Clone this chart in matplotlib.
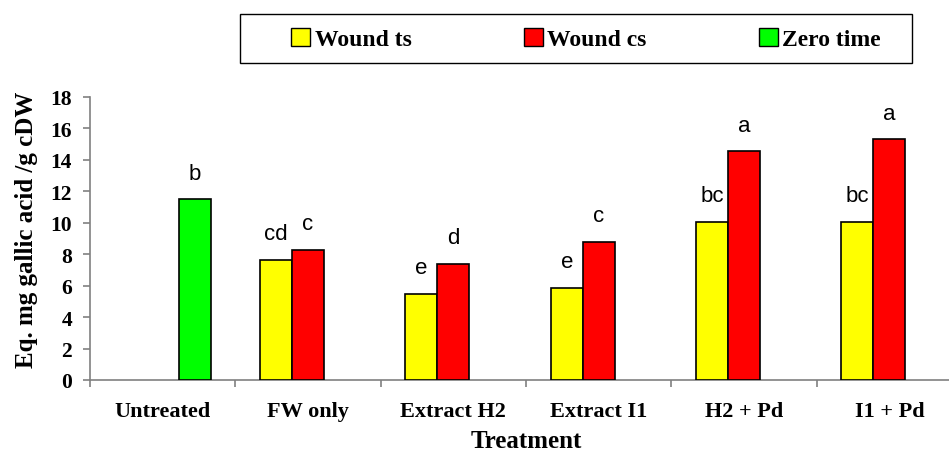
import matplotlib.pyplot as plt
import matplotlib.patches as mpatches
import numpy as np

# Data
categories = ['Untreated', 'FW only', 'Extract H2', 'Extract I1', 'H2 + Pd', 'I1 + Pd']
wound_ts = [np.nan, 7.65, 5.5, 5.88, 10.08, 10.08]
wound_cs = [np.nan, 8.3, 7.4, 8.8, 14.56, 15.3]
zero_time = [11.5, np.nan, np.nan, np.nan, np.nan, np.nan]
letters_ts = ['', 'cd', 'e', 'e', 'bc', 'bc']
letters_cs = ['', 'c', 'd', 'c', 'a', 'a']
letters_zero = ['b', '', '', '', '', '']

serif = 'Liberation Serif'

fig = plt.figure(figsize=(9.49, 4.52), dpi=100)
ax = fig.add_axes([90 / 949, 1 - 381 / 452, 872 / 949, 283 / 452])

x = np.arange(len(categories))
w = 0.22
series = [(wound_ts, letters_ts, '#FFFF00', -w, 'Wound ts'),
          (wound_cs, letters_cs, '#FF0000', 0, 'Wound cs'),
          (zero_time, letters_zero, '#00FF00', w, 'Zero time')]

handles = []
for vals, lets, col, off, name in series:
    ax.bar(x + off, vals, width=w, color=col, edgecolor='black', linewidth=1.2, zorder=3)
    for xi, v, t in zip(x, vals, lets):
        if t:
            ax.text(xi + off, v + 1.65, t, ha='center', va='center', fontsize=16,
                    family='Liberation Sans')
    handles.append(mpatches.Patch(facecolor=col, edgecolor='black', linewidth=1.0, label=name))

ax.set_xlim(-0.5, len(categories) - 0.5)
ax.set_ylim(0, 18)
ax.set_yticks(range(0, 19, 2))

for s in ['top', 'right']:
    ax.spines[s].set_visible(False)
for s in ['left', 'bottom']:
    ax.spines[s].set_color('#808080')
    ax.spines[s].set_linewidth(1.2)

ax.set_xticks(x)
ax.set_xticklabels(categories)
ax.set_xticks(np.arange(-0.5, len(categories), 1), minor=True)
ax.tick_params(axis='x', which='major', length=0, pad=15)
ax.tick_params(axis='x', which='minor', length=5, color='#808080', width=1.2)
ax.tick_params(axis='y', length=5, color='#808080', width=1.2, pad=8)

for lab in ax.get_xticklabels():
    lab.set_family(serif)
    lab.set_fontweight('bold')
    lab.set_fontsize(16)
for lab in ax.get_yticklabels():
    lab.set_family(serif)
    lab.set_fontweight('bold')
    lab.set_fontsize(15.5)

ax.set_ylabel('Eq. mg gallic acid /g cDW', family=serif, fontweight='bold', fontsize=18)
ax.yaxis.set_label_coords(-0.06, 0.535)
ax.set_xlabel('Treatment', family=serif, fontweight='bold', fontsize=18, labelpad=6)

# legend box drawn separately so the frame matches the original
fig.patches.append(mpatches.Rectangle((240 / 949, 1 - 64 / 452), 672 / 949, 49 / 452,
                                      transform=fig.transFigure, facecolor='white',
                                      edgecolor='black', linewidth=1.0))
fig.legend(handles=handles, loc='center left', ncol=3,
           bbox_to_anchor=(291 / 949, 1 - 40 / 452),
           prop={'family': serif, 'weight': 'bold', 'size': 17},
           frameon=False, handlelength=0.8, handleheight=0.8, handletextpad=0.2,
           columnspacing=4.75, borderaxespad=0, borderpad=0)

fig.savefig('out.png', dpi=100)
